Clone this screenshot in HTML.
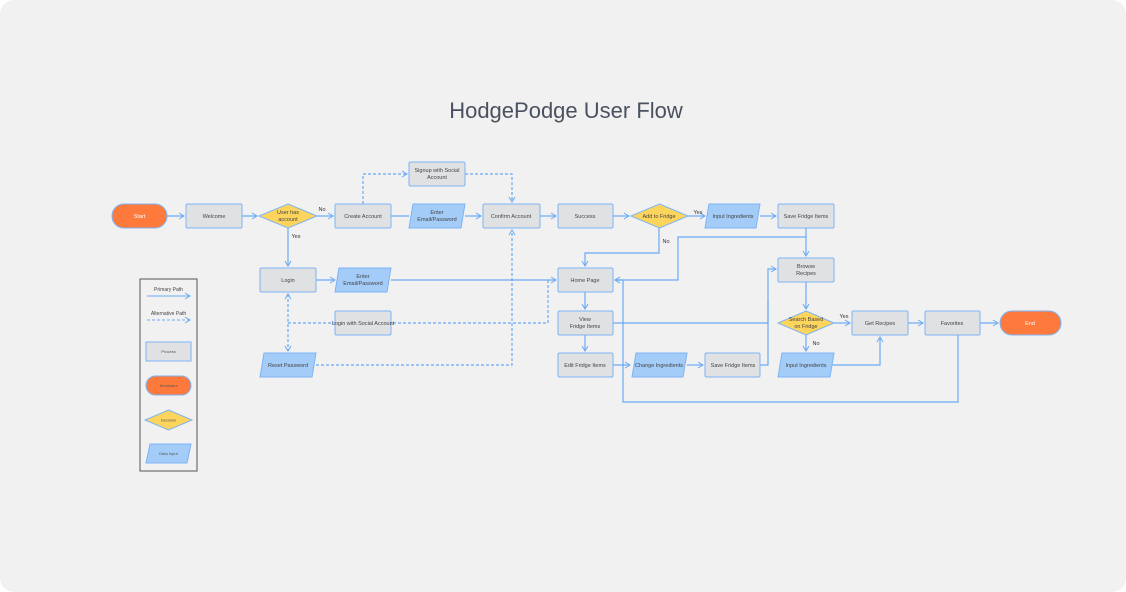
<!DOCTYPE html>
<html><head><meta charset="utf-8"><style>
html,body{margin:0;padding:0;background:#fff;width:1126px;height:592px;overflow:hidden}
svg{display:block;font-family:"Liberation Sans",sans-serif}
</style></head><body>
<svg width="1126" height="592" viewBox="0 0 1126 592" xmlns="http://www.w3.org/2000/svg">
<defs>
<marker id="a" markerWidth="8" markerHeight="8" refX="6" refY="4" orient="auto" markerUnits="userSpaceOnUse"><path d="M1,1 L6,4 L1,7" fill="none" stroke="#6aaaf5" stroke-width="1"/></marker>
<marker id="s" markerWidth="8" markerHeight="8" refX="2" refY="4" orient="auto" markerUnits="userSpaceOnUse"><path d="M7,1 L2,4 L7,7" fill="none" stroke="#6aaaf5" stroke-width="1"/></marker>
</defs>
<rect x="0" y="0" width="1126" height="592" rx="14" fill="#f1f1f1"/>
<text x="566" y="118" font-size="22" fill="#4a5160" text-anchor="middle">HodgePodge User Flow</text>

<g fill="none" stroke="#6aaaf5" stroke-width="1.2">
<path d="M167,216 H184" marker-end="url(#a)"/>
<path d="M242,216 H257" marker-end="url(#a)"/>
<path d="M317,216 H333" marker-end="url(#a)"/>
<path d="M391,216 H409"/>
<path d="M465,216 H481" marker-end="url(#a)"/>
<path d="M540,216 H556" marker-end="url(#a)"/>
<path d="M613,216 H629" marker-end="url(#a)"/>
<path d="M688,216 H705" marker-end="url(#a)"/>
<path d="M760,216 H776" marker-end="url(#a)"/>
<path d="M288,228 V266" marker-end="url(#a)"/>
<path d="M316,280 H335" marker-end="url(#a)"/>
<path d="M391,280 H556" marker-end="url(#a)"/>
<path d="M659,228 V253 H585 V266" marker-end="url(#a)"/>
<path d="M806,228 V256" marker-end="url(#a)"/>
<path d="M806,237 H678 V280 H615" marker-end="url(#a)"/>
<path d="M585,292 V309" marker-end="url(#a)"/>
<path d="M585,335 V351" marker-end="url(#a)"/>
<path d="M613,323 H768 V269 H776" marker-end="url(#a)"/>
<path d="M613,365 H630" marker-end="url(#a)"/>
<path d="M687,365 H703" marker-end="url(#a)"/>
<path d="M760,365 H768 V300"/>
<path d="M806,282 V309" marker-end="url(#a)"/>
<path d="M834,323 H850" marker-end="url(#a)"/>
<path d="M806,335 V351" marker-end="url(#a)"/>
<path d="M830,365 H880 V337" marker-end="url(#a)"/>
<path d="M908,323 H923" marker-end="url(#a)"/>
<path d="M980,323 H998" marker-end="url(#a)"/>
<path d="M958,335 V402 H623 V280 H615" marker-end="url(#a)"/>
</g>
<g fill="none" stroke="#6aaaf5" stroke-width="1.2" stroke-dasharray="3,2">
<path d="M363,204 V174 H407" marker-end="url(#a)"/>
<path d="M465,174 H512 V202" marker-end="url(#a)"/>
<path d="M288,294 V351" marker-start="url(#s)" marker-end="url(#a)"/>
<path d="M288,323 H548 V280"/>
<path d="M316,365 H512 V230" marker-end="url(#a)"/>
</g>

<g font-size="5.5" fill="#333" text-anchor="middle">
<text x="322" y="211">No</text>
<text x="296" y="238">Yes</text>
<text x="698" y="214">Yes</text>
<text x="666" y="243">No</text>
<text x="844" y="318">Yes</text>
<text x="816" y="345">No</text>
</g>

<g stroke="#7db4f5" stroke-width="1" font-size="5.5" text-anchor="middle">
<rect x="112" y="204" width="55" height="24" rx="12" fill="#fd7a3c"/>
<text x="139.5" y="218" fill="#fff" stroke="none">Start</text>
<rect x="1000" y="311" width="61" height="24" rx="12" fill="#fd7a3c"/>
<text x="1030" y="325" fill="#fff" stroke="none">End</text>
<g fill="#dfe1e3">
<rect x="186" y="204" width="56" height="24" rx="1.5"/>
<rect x="335" y="204" width="56" height="24" rx="1.5"/>
<rect x="409" y="162" width="56" height="24" rx="1.5"/>
<rect x="483" y="204" width="57" height="24" rx="1.5"/>
<rect x="558" y="204" width="55" height="24" rx="1.5"/>
<rect x="778" y="204" width="56" height="24" rx="1.5"/>
<rect x="260" y="268" width="56" height="24" rx="1.5"/>
<rect x="335" y="311" width="56" height="24" rx="1.5"/>
<rect x="558" y="268" width="55" height="24" rx="1.5"/>
<rect x="778" y="258" width="56" height="24" rx="1.5"/>
<rect x="558" y="311" width="55" height="24" rx="1.5"/>
<rect x="558" y="353" width="55" height="24" rx="1.5"/>
<rect x="705" y="353" width="55" height="24" rx="1.5"/>
<rect x="852" y="311" width="56" height="24" rx="1.5"/>
<rect x="925" y="311" width="55" height="24" rx="1.5"/>
</g>
<g fill="#a3ccf8">
<polygon points="413,204 465,204 461,228 409,228"/>
<polygon points="339,268 391,268 387,292 335,292"/>
<polygon points="264,353 316,353 312,377 260,377"/>
<polygon points="709,204 760,204 756,228 705,228"/>
<polygon points="636,353 687,353 683,377 632,377"/>
<polygon points="782,353 834,353 830,377 778,377"/>
</g>
<g fill="#fdd45c">
<polygon points="288,204 317,216 288,228 259,216"/>
<polygon points="659.5,204 688,216 659.5,228 631,216"/>
<polygon points="806,311 834,323 806,335 778,323"/>
</g>
<g fill="#444" stroke="none">
<text x="214" y="218">Welcome</text>
<text x="288" y="214">User has</text><text x="288" y="221">account</text>
<text x="363" y="218">Create Account</text>
<text x="437" y="172">Signup with Social</text><text x="437" y="179">Account</text>
<text x="437" y="214">Enter</text><text x="437" y="221">Email/Password</text>
<text x="511" y="218">Confirm Account</text>
<text x="585" y="218">Success</text>
<text x="659" y="218">Add to Fridge</text>
<text x="733" y="218">Input Ingredients</text>
<text x="806" y="218">Save Fridge Items</text>
<text x="288" y="282">Login</text>
<text x="363" y="278">Enter</text><text x="363" y="285">Email/Password</text>
<text x="363" y="325">Login with Social Account</text>
<text x="288" y="367">Reset Password</text>
<text x="585" y="282">Home Page</text>
<text x="806" y="268">Browse</text><text x="806" y="275">Recipes</text>
<text x="585" y="321">View</text><text x="585" y="328">Fridge Items</text>
<text x="585" y="367">Edit Fridge Items</text>
<text x="659" y="367">Change Ingredients</text>
<text x="733" y="367">Save Fridge Items</text>
<text x="806" y="321">Search Based</text><text x="806" y="328">on Fridge</text>
<text x="806" y="367">Input Ingredients</text>
<text x="880" y="325">Get Recipes</text>
<text x="952" y="325">Favorites</text>
</g>
</g>

<rect x="140" y="279" width="57" height="192" fill="none" stroke="#555" stroke-width="1"/>
<g font-size="5" fill="#444" text-anchor="middle">
<text x="168.5" y="291">Primary Path</text>
<text x="168.5" y="315">Alternative Path</text>
</g>
<path d="M147,296 H190" stroke="#6aaaf5" stroke-width="1" fill="none" marker-end="url(#a)"/>
<path d="M147,320 H190" stroke="#6aaaf5" stroke-width="1" stroke-dasharray="3,2" fill="none" marker-end="url(#a)"/>
<g stroke="#7db4f5" stroke-width="1" font-size="4" text-anchor="middle">
<rect x="146" y="342" width="45" height="19" fill="#dfe1e3"/>
<text x="168.5" y="353" fill="#555" stroke="none">Process</text>
<rect x="146" y="376" width="45" height="19" rx="9.5" fill="#fd7a3c"/>
<text x="168.5" y="387" fill="#555" stroke="none">Terminator</text>
<polygon points="168.5,410 192,420 168.5,430 145,420" fill="#fdd45c"/>
<text x="168.5" y="421.5" fill="#555" stroke="none">Decision</text>
<polygon points="150,444 191,444 187,463 146,463" fill="#a3ccf8"/>
<text x="168.5" y="455" fill="#555" stroke="none">Data Input</text>
</g>
</svg>
</body></html>
